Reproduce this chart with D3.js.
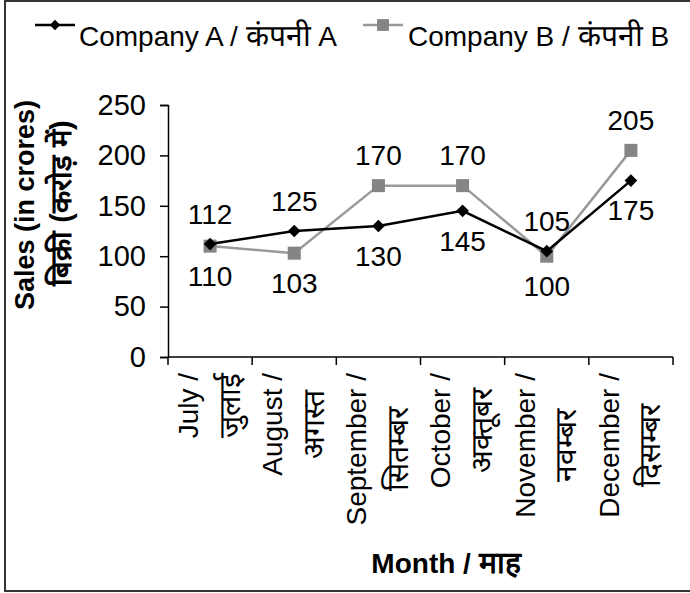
<!DOCTYPE html>
<html>
<head>
<meta charset="utf-8">
<script src="https://cdn.jsdelivr.net/npm/d3@7"></script>
<style>
  html, body { margin: 0; padding: 0; background: #fff; }
  svg { display: block; font-family: "Liberation Sans", Arial, sans-serif; }
</style>
</head>
<body>
<div id="chart"></div>
<script>
// data
const monthsEn = ["July /", "August /", "September /", "October /", "November /", "December /"];
const monthsHi = ["जुलाई", "अगस्त", "सितम्बर", "अक्तूबर", "नवम्बर", "दिसम्बर"];
const companyA = [112, 125, 130, 145, 105, 175];
const companyB = [110, 103, 170, 170, 100, 205];
const labelSideA = ["above", "above", "below", "below", "above", "below"];
const labelSideB = ["below", "below", "above", "above", "below", "above"];
const yTicks = [0, 50, 100, 150, 200, 250];
const seriesEn = ["Company A / ", "Company B / "];
const seriesHi = ["कंपनी", "कंपनी"];
const seriesTag = [" A", " B"];

const width = 690, height = 593;
const m = { top: 105, right: 17, bottom: 236, left: 168 };
const innerW = width - m.left - m.right;
const innerH = height - m.top - m.bottom;
const fontSize = 28;
const hiSize = 30;   // the Devanagari fallback draws small, so give it a bit more

const svg = d3.select("#chart").append("svg")
    .attr("width", width)
    .attr("height", height);

// outer frame
svg.append("rect")
    .attr("x", 5).attr("y", 1)
    .attr("width", 720).attr("height", 590)
    .attr("fill", "none")
    .attr("stroke", "#333")
    .attr("stroke-width", 2);

const plot = svg.append("g").attr("transform", `translate(${m.left},${m.top})`);

const x = d3.scaleBand().domain(d3.range(monthsEn.length)).range([0, innerW]);
const y = d3.scaleLinear().domain([0, 250]).range([innerH, 0]);
const cx = i => x(i) + x.bandwidth() / 2;

// y axis
const yAxis = plot.append("g")
    .call(d3.axisLeft(y).tickValues(yTicks).tickSize(8).tickPadding(14));
yAxis.select(".domain").attr("stroke", "#000").attr("stroke-width", 1.5);
yAxis.selectAll(".tick line").attr("stroke", "#000").attr("stroke-width", 1.5);
yAxis.selectAll(".tick text")
    .attr("font-size", 29)
    .attr("font-family", "Liberation Sans, Arial, sans-serif")
    .attr("fill", "#000");

// x axis: ticks at category boundaries
const xAxis = plot.append("g").attr("transform", `translate(0,${innerH})`);
xAxis.append("line")
    .attr("x1", 0).attr("x2", innerW)
    .attr("stroke", "#000").attr("stroke-width", 1.5);
xAxis.selectAll("line.tk")
    .data(d3.range(monthsEn.length + 1))
    .join("line")
    .attr("class", "tk")
    .attr("x1", i => i * x.step()).attr("x2", i => i * x.step())
    .attr("y1", 0).attr("y2", 8)
    .attr("stroke", "#000").attr("stroke-width", 1.5);

// two-line rotated month labels, top aligned, each line centred on the longer one
const labelTop = 16;
monthsEn.forEach((en, i) => {
    const g = xAxis.append("g");
    const tEn = g.append("text").text(en)
        .attr("font-size", fontSize).attr("text-anchor", "middle").attr("dy", "0.35em");
    const tHi = g.append("text").text(monthsHi[i])
        .attr("font-size", hiSize).attr("text-anchor", "middle").attr("dy", "0.35em");
    const len = Math.max(tEn.node().getComputedTextLength(), tHi.node().getComputedTextLength());
    const yc = labelTop + len / 2;
    tEn.attr("transform", `translate(${cx(i) - 22},${yc}) rotate(-90)`);
    tHi.attr("transform", `translate(${cx(i) + 19},${yc}) rotate(-90)`);
});

// axis titles
svg.append("text")
    .attr("transform", "translate(25,205) rotate(-90)")
    .attr("dy", "0.35em").attr("text-anchor", "middle")
    .attr("font-size", 27).attr("font-weight", "bold")
    .text("Sales (in crores)");
svg.append("text")
    .attr("transform", "translate(61,203) rotate(-90)")
    .attr("dy", "0.35em").attr("text-anchor", "middle")
    .attr("font-size", 29).attr("font-weight", "bold")
    .text("बिक्री (करोड़ में)");
const mt = svg.append("text")
    .attr("x", 446).attr("y", 563)
    .attr("dy", "0.35em").attr("text-anchor", "middle")
    .attr("font-size", fontSize).attr("font-weight", "bold");
mt.append("tspan").text("Month / ");
mt.append("tspan").attr("font-size", hiSize).text("माह");

// series
const line = d3.line().x((d, i) => cx(i)).y(d => y(d));
const diamond = d3.symbol().type(d3.symbolSquare).size(80);
const square = d3.symbol().type(d3.symbolSquare).size(170);

plot.append("path").datum(companyB)
    .attr("d", line).attr("fill", "none")
    .attr("stroke", "#999").attr("stroke-width", 2.5);
plot.selectAll("path.mb").data(companyB).join("path")
    .attr("class", "mb")
    .attr("d", square)
    .attr("transform", (d, i) => `translate(${cx(i)},${y(d)})`)
    .attr("fill", "#858585");

plot.append("path").datum(companyA)
    .attr("d", line).attr("fill", "none")
    .attr("stroke", "#000").attr("stroke-width", 2.5);
plot.selectAll("path.ma").data(companyA).join("path")
    .attr("class", "ma")
    .attr("d", diamond)
    .attr("transform", (d, i) => `translate(${cx(i)},${y(d)}) rotate(45)`)
    .attr("fill", "#000");

// data labels
function addLabels(vals, sides) {
    plot.selectAll(null).data(vals).join("text")
        .attr("x", (d, i) => cx(i))
        .attr("y", (d, i) => y(d) + (sides[i] === "above" ? -30 : 30))
        .attr("dy", "0.35em").attr("text-anchor", "middle")
        .attr("font-size", fontSize).attr("fill", "#000")
        .text(d => d);
}
addLabels(companyA, labelSideA);
addLabels(companyB, labelSideB);

// legend
function legendText(g, i, xPos) {
    const t = g.append("text").attr("x", xPos).attr("y", 21).attr("font-size", fontSize);
    t.append("tspan").text(seriesEn[i]);
    t.append("tspan").attr("font-size", hiSize).text(seriesHi[i]);
    t.append("tspan").text(seriesTag[i]);
}
const legA = svg.append("g").attr("transform", "translate(35,25)");
legA.append("line").attr("x1", 0).attr("x2", 40).attr("stroke", "#000").attr("stroke-width", 2.5);
legA.append("path").attr("d", d3.symbol().type(d3.symbolSquare).size(55)())
    .attr("transform", "translate(20,0) rotate(45)").attr("fill", "#000");
legendText(legA, 0, 44);

const legB = svg.append("g").attr("transform", "translate(363,25)");
legB.append("line").attr("x1", 0).attr("x2", 40).attr("stroke", "#999").attr("stroke-width", 2.5);
legB.append("path").attr("d", d3.symbol().type(d3.symbolSquare).size(140)())
    .attr("transform", "translate(20,0)").attr("fill", "#858585");
legendText(legB, 1, 45);
</script>
</body>
</html>
